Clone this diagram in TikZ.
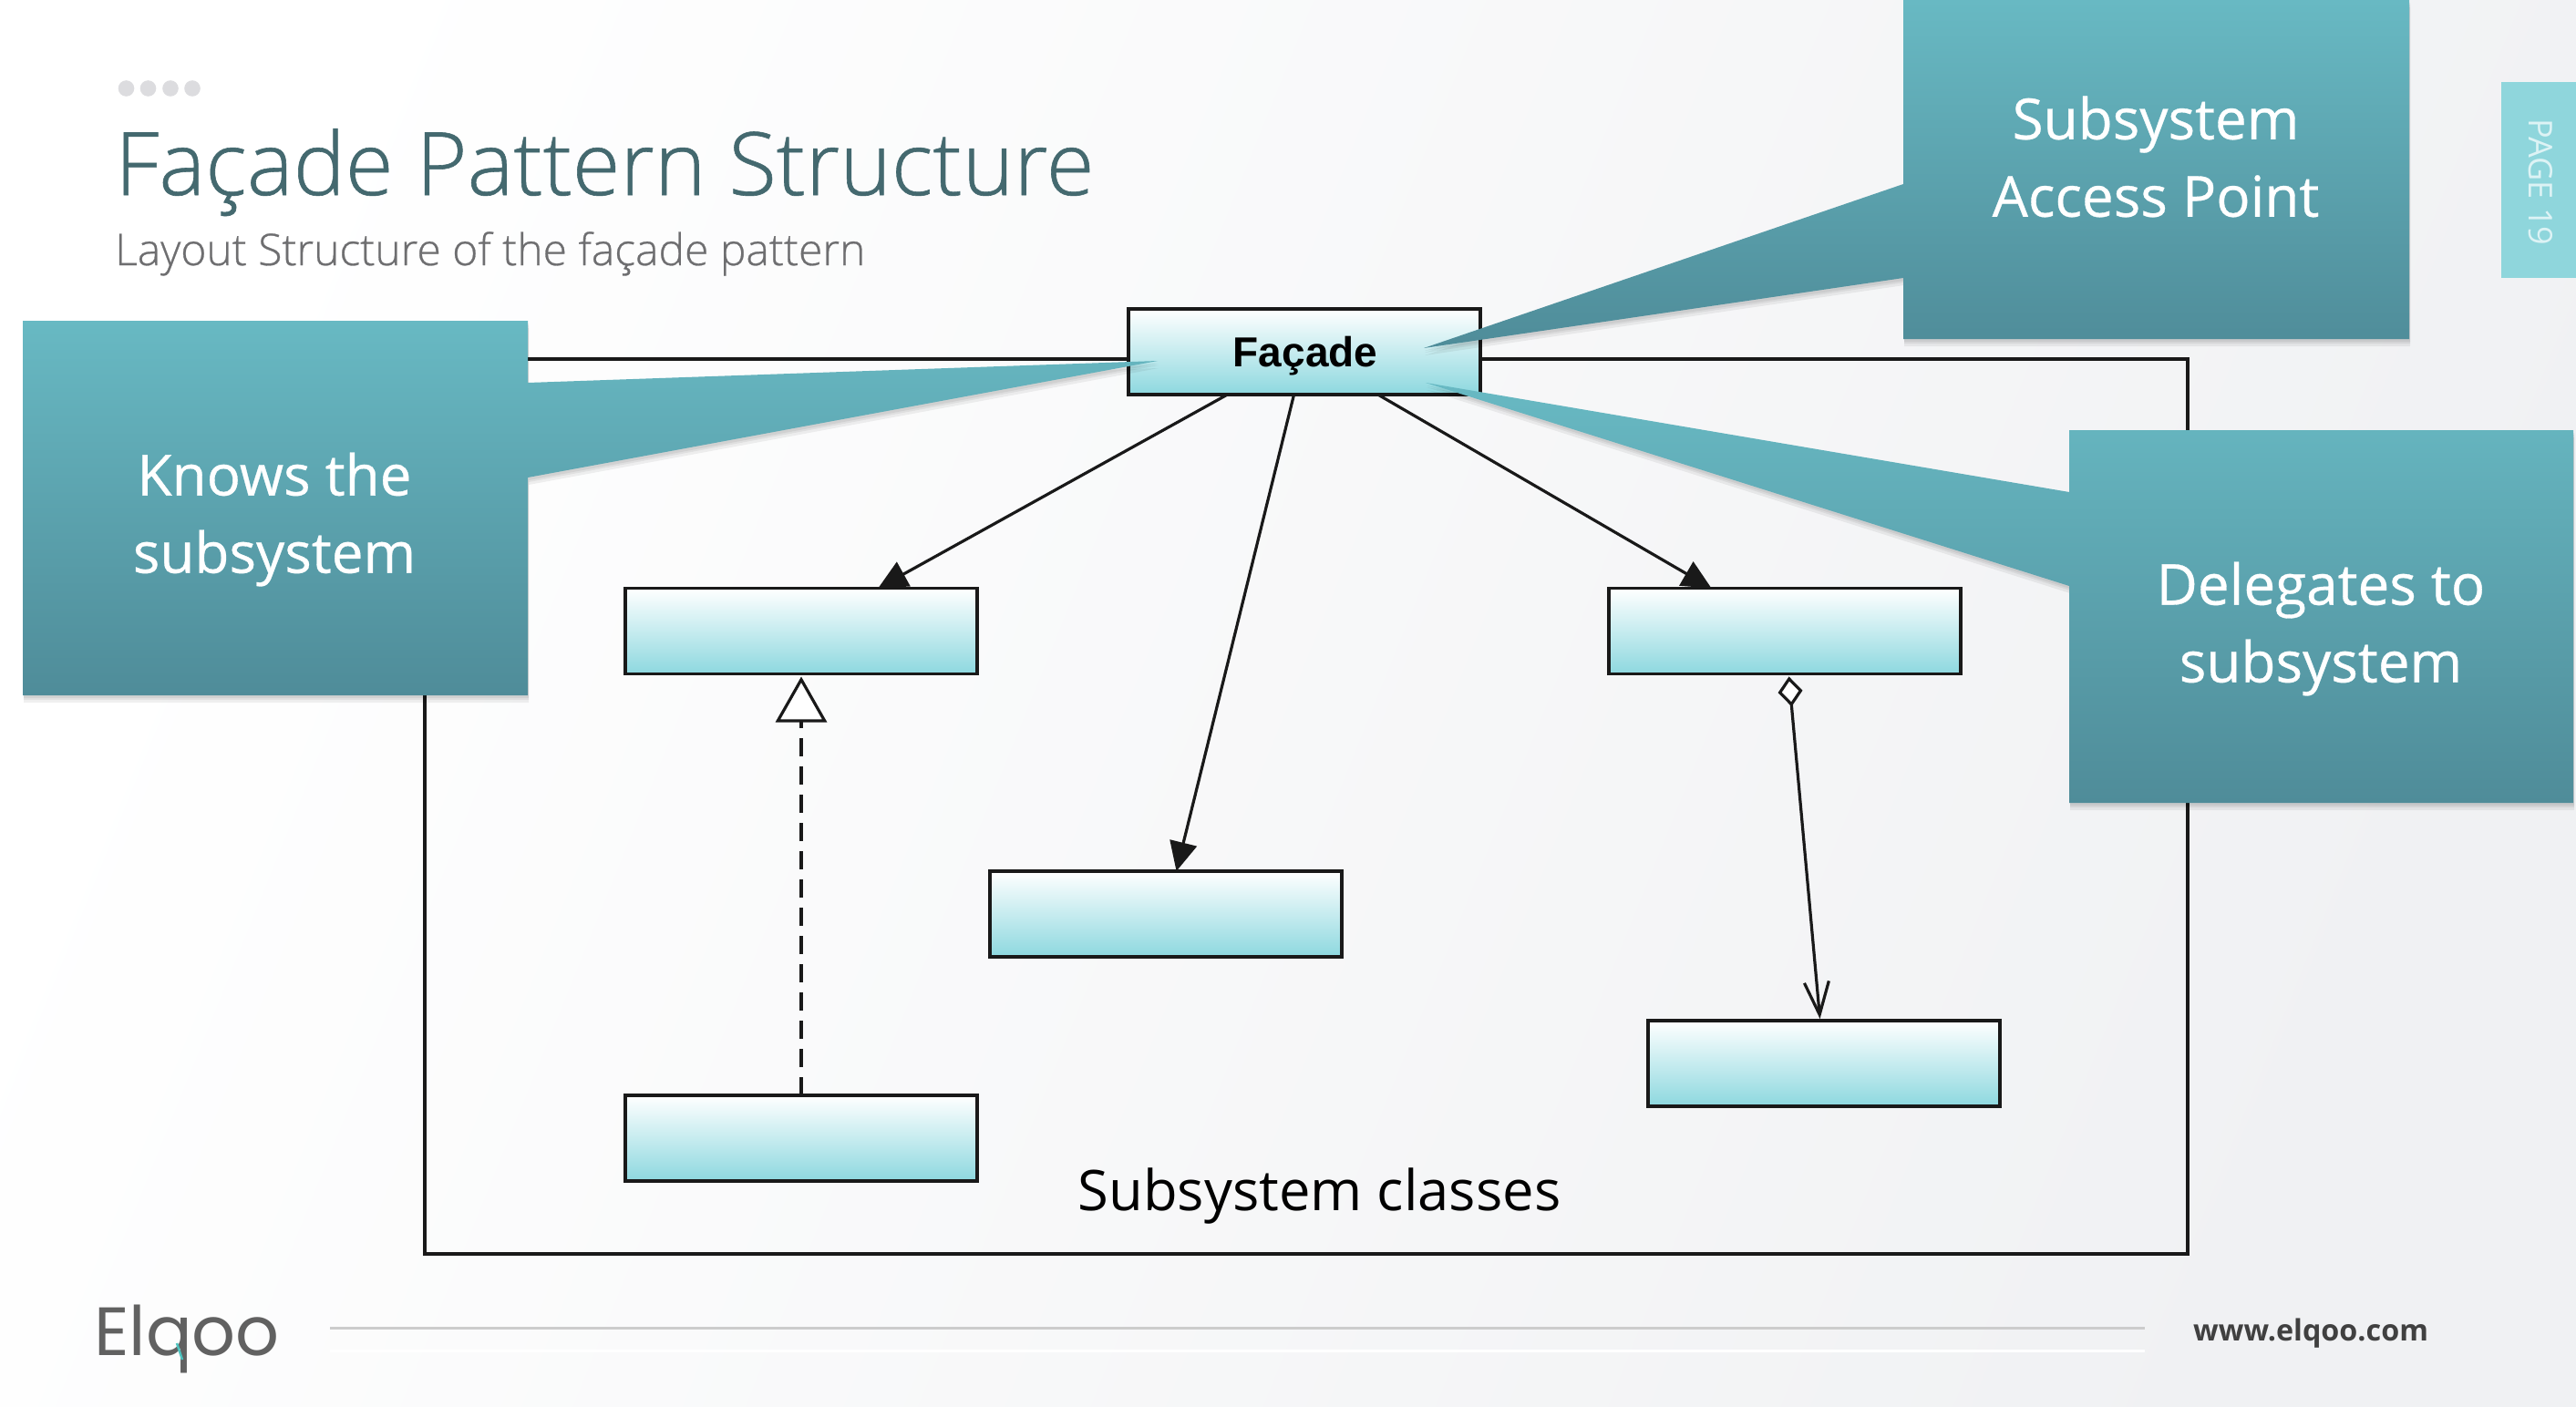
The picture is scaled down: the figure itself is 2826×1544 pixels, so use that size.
\documentclass[tikz,border=0pt]{standalone}
\usepackage{fontspec}
\setmainfont{Open Sans}
\newfontfamily\oslight{Open Sans}[UprightFont=* Light,FakeBold=0.6]
\newfontfamily\oscall{Open Sans}[FakeBold=0.5]
\newfontfamily\arialb{Liberation Sans}[UprightFont=* Bold]
\newfontfamily\logofont{Poppins}
\usetikzlibrary{arrows.meta,shapes.geometric,shadings}
\definecolor{boxlow}{HTML}{8DD8DF}
\definecolor{calltop}{HTML}{68B9C3}
\definecolor{callmid}{HTML}{5FA8B3}
\definecolor{calllow}{HTML}{4F8C99}
\definecolor{titlecol}{HTML}{44696F}
\definecolor{subcol}{HTML}{6E6E70}
\definecolor{tabcol}{HTML}{8FD6DC}
\definecolor{pagebg}{HTML}{F0F1F3}
\definecolor{pagemid}{HTML}{F5F6F8}
\definecolor{dotcol}{HTML}{DCDCDF}
\tikzset{
  x=1pt,y=-1pt,
  classbox/.style={draw=black!90,line width=3.6pt,top color=white,bottom color=boxlow,
    minimum width=386pt,minimum height=94pt,inner sep=0pt,outer sep=0pt},
  assoc/.style={line width=3.2pt,black!90,-{Triangle[length=32pt,width=30pt]}},
  shadowlayer/.style={preaction={draw=none,fill=black,fill opacity=.06,
      transform canvas={xshift=1pt,yshift=-#1}}},
  callout/.style={top color=calltop,middle color=callmid,bottom color=calllow,draw=none,
    shadowlayer=8pt,shadowlayer=5pt,shadowlayer=3pt},
  calltext/.style={text=white,align=center,font=\oscall\fontsize{62}{85}\selectfont,inner sep=0pt},
}
\begin{document}
\begin{tikzpicture}
\useasboundingbox (0,0) rectangle (2826,1544);
\shade[left color=white,middle color=pagemid,right color=pagebg,shading angle=68] (0,0) rectangle (2826,1544);
% header
\foreach \dx in {138.5,162.5,187,211}{\fill[dotcol] (\dx,97) circle[radius=8.8];}
\node[anchor=base west,inner sep=0pt,text=titlecol,font=\oslight\fontsize{96}{110}\selectfont] (title) at (126,214) {Façade Pattern Structure};
\node[anchor=base west,inner sep=0pt,text=subcol,font=\oslight\fontsize{48}{60}\selectfont] (subtitle) at (126,291) {Layout Structure of the façade pattern};
% page tab
\node[fill=tabcol,minimum width=82pt,minimum height=215pt,inner sep=0pt,anchor=north west] (tab) at (2744,90) {};
\node[rotate=-90,text=white!70!tabcol,font=\fontsize{36}{40}\selectfont,inner sep=0pt] (pagelabel) at (2787,200) {PAGE 19};
% subsystem frame
\draw[line width=3.6pt,black!90] (466,394) rectangle (2400,1376);
\node[inner sep=0pt,text=black,font=\fontsize{61.5}{70}\selectfont] (frame) at (1447.5,1313) {Subsystem classes};
% classes
\node[classbox] (facade) at (1431,386) {};
\node[inner sep=0pt,font=\arialb\fontsize{46}{50}\selectfont] (facadelabel) at (1432,391) {Façade};
\node[classbox] (a) at (879,692.5) {};
\node[classbox] (m) at (1279,1003) {};
\node[classbox] (r) at (1958,692.5) {};
\node[classbox] (bl) at (879,1249) {};
\node[classbox] (br) at (2001,1167) {};
% connectors
\draw[assoc] (facade) -- (a);
\draw[assoc] (facade) -- (m);
\draw[assoc] (facade) -- (r);
\draw[line width=3.2pt,black!90,dash pattern=on 20pt off 11pt,shorten >=3pt,-{Triangle[open,length=50pt,width=56pt,fill=white]}] (bl) -- (a);
\draw[line width=3.2pt,black!90,shorten <=3pt,shorten >=2pt,{Diamond[open,length=33pt,width=27pt,fill=white]}-{Straight Barb[length=36pt,width=27pt]}] (r) -- (br);
% callouts
\shade[callout] (25,352) -- (579,352) -- (579,420) -- (1270,396) -- (579,524) -- (579,763) -- (25,763) -- cycle;
\node[calltext] (knows) at (301,570) {Knows the\\subsystem};
\shade[callout] (2088,0) -- (2643,0) -- (2643,372) -- (2088,372) -- (2088,305) -- (1562,382) -- (2088,202) -- cycle;
\node[calltext] (access) at (2365,172) {Subsystem\\Access Point};
\shade[callout] (2270,472) -- (2823,472) -- (2823,881) -- (2270,881) -- (2270,643) -- (1564,420) -- (2270,540) -- cycle;
\node[calltext] (delegates) at (2546,690) {Delegates to\\subsystem};
% footer
\draw[line width=3pt,black!20] (362,1457) -- (2353,1457);
\draw[line width=3pt,white] (362,1482) -- (2353,1482);
\node[anchor=base west,inner sep=0pt,text=black!62,font=\logofont\fontsize{75}{80}\selectfont] (logo) at (103,1487) {Elqoo};
\draw[line width=2.5pt,cyan!60!green!70] (194,1474) -- (200,1492);
\node[anchor=base west,inner sep=0pt,text=black!75,font=\bfseries\fontsize{32.3}{40}\selectfont] (url) at (2406,1471) {www.elqoo.com};
\end{tikzpicture}
\end{document}
